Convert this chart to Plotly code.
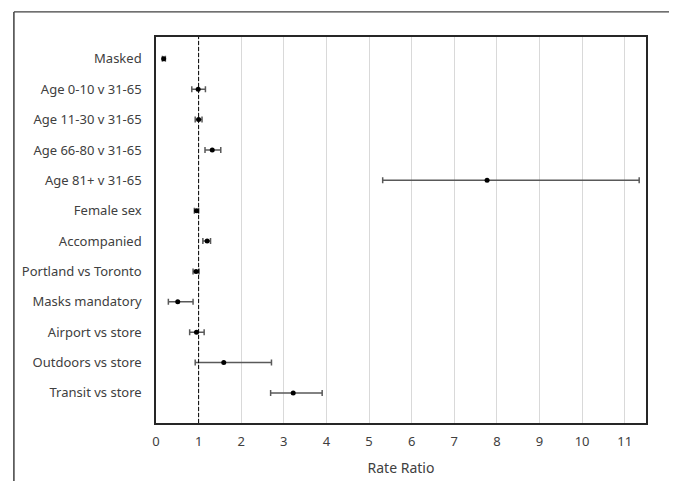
import plotly.graph_objects as go

categories = ["Masked", "Age 0-10 v 31-65", "Age 11-30 v 31-65", "Age 66-80 v 31-65",
              "Age 81+ v 31-65", "Female sex", "Accompanied", "Portland vs Toronto",
              "Masks mandatory", "Airport vs store", "Outdoors vs store", "Transit vs store"]
rate_ratio = [0.18, 0.99, 1.00, 1.32, 7.77, 0.95, 1.20, 0.94, 0.51, 0.95, 1.59, 3.22]
ci_lower = [0.15, 0.84, 0.92, 1.15, 5.32, 0.90, 1.10, 0.87, 0.29, 0.79, 0.92, 2.69]
ci_upper = [0.22, 1.16, 1.08, 1.52, 11.34, 1.00, 1.28, 1.01, 0.87, 1.13, 2.71, 3.90]
x_ticks = list(range(0, 12))

plus = [u - r for u, r in zip(ci_upper, rate_ratio)]
minus = [r - l for r, l in zip(rate_ratio, ci_lower)]

fig = go.Figure()
fig.add_trace(go.Scatter(
    x=rate_ratio, y=categories, mode="markers",
    marker=dict(color="black", size=5),
    error_x=dict(type="data", symmetric=False, array=plus, arrayminus=minus,
                 color="#595959", thickness=1.5, width=3),
    showlegend=False,
))

fig.add_shape(type="line", xref="x", yref="paper", x0=1, x1=1, y0=0, y1=1,
              line=dict(color="black", width=1, dash="4px,2px"))
# outer chart frame
fig.add_shape(type="line", xref="paper", yref="paper", x0=-0.29, x1=1.055, y0=1.065, y1=1.065,
              line=dict(color="#404040", width=1.2))
fig.add_shape(type="line", xref="paper", yref="paper", x0=-0.29, x1=-0.29, y0=-0.15, y1=1.065,
              line=dict(color="#404040", width=1.5))
fig.add_shape(type="line", xref="paper", yref="paper", x0=1.055, x1=1.055, y0=-0.15, y1=1.065,
              line=dict(color="#8c8c8c", width=2))

fig.update_layout(
    width=669, height=476,
    margin=dict(l=148, r=31, t=29, b=61, autoexpand=False),
    paper_bgcolor="white", plot_bgcolor="white",
    font=dict(family="Noto Sans", size=13, color="#404040"),
    xaxis=dict(range=[0, 11.5], tickvals=x_ticks, ticktext=[str(t) for t in x_ticks],
               showgrid=True, gridcolor="#d9d9d9", gridwidth=1, zeroline=False,
               showline=True, linecolor="#262626", linewidth=1.5, mirror=True,
               ticks="", ticklabelstandoff=6, automargin=False,
               title=dict(text="Rate Ratio", font=dict(size=14, color="#404040"), standoff=14)),
    yaxis=dict(type="category", categoryorder="array", categoryarray=categories,
               range=[11.99, -0.72], showgrid=False, zeroline=False,
               showline=True, linecolor="#262626", linewidth=1.5, mirror=True,
               ticks="", ticklabelstandoff=10, automargin=False),
)

fig.write_html("out.html")
